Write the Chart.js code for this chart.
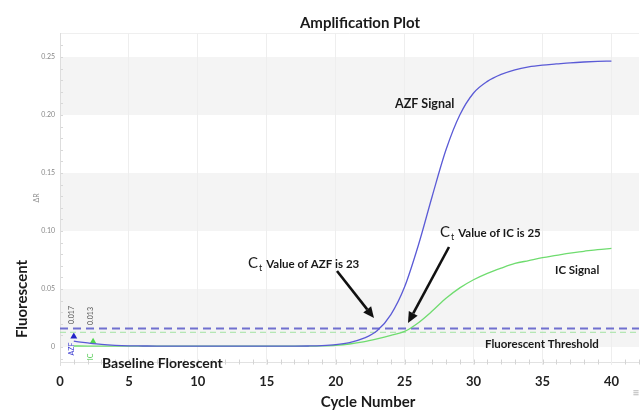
<!DOCTYPE html>
<html>
<head>
<meta charset="utf-8">
<script src="https://cdn.jsdelivr.net/npm/chart.js@4"></script>
<style>
  html, body { margin: 0; padding: 0; background: #fff; }
  #wrap { width: 643px; height: 410px; }
</style>
</head>
<body>
<div id="wrap"><canvas id="ampChart" width="643" height="410"></canvas></div>
<script>
// cycle numbers and the two fluorescence curves (delta Rn)
const cycles = [1, 2, 3, 4, 5, 6, 7, 8, 9, 10, 11, 12, 13, 14, 15, 16, 17, 18, 19, 20,
                21, 22, 23, 24, 25, 26, 27, 28, 29, 30, 31, 32, 33, 34, 35, 36, 37, 38, 39, 40];
const azfSignal = [0.0050, 0.0035, 0.0022, 0.0014, 0.0010, 0.0009, 0.0008, 0.0008, 0.0008, 0.0008,
                   0.0008, 0.0008, 0.0008, 0.0008, 0.0008, 0.0008, 0.0008, 0.0009, 0.0012, 0.0020,
                   0.0038, 0.0074, 0.0140, 0.0280, 0.0520, 0.0880, 0.1300, 0.1700, 0.2000, 0.2190,
                   0.2290, 0.2350, 0.2390, 0.2415, 0.2430, 0.2440, 0.2450, 0.2457, 0.2462, 0.2465];
const icSignal = [0.0009, 0.0008, 0.0008, 0.0008, 0.0008, 0.0008, 0.0008, 0.0008, 0.0008, 0.0008,
                  0.0008, 0.0008, 0.0008, 0.0008, 0.0008, 0.0008, 0.0008, 0.0008, 0.0010, 0.0015,
                  0.0026, 0.0044, 0.0070, 0.0100, 0.0135, 0.0210, 0.0310, 0.0420, 0.0510, 0.0580,
                  0.0635, 0.0680, 0.0720, 0.0745, 0.0770, 0.0790, 0.0810, 0.0825, 0.0840, 0.0850];

// threshold levels
const azfThreshold = 0.016;
const icThreshold = 0.0127;

// baseline markers (cycle, value) for AZF and IC
const markerCycles = [1, 2.4];
const markerValues = [0.009, 0.0046];

// axis ticks
const xTickValues = [0, 5, 10, 15, 20, 25, 30, 35, 40];
const yTickValues = [0, 0.05, 0.10, 0.15, 0.20, 0.25];

const FONT = 'Lato, "Open Sans", "Liberation Sans", sans-serif';

const toPoints = (xs, ys) => xs.map((x, i) => ({ x: x, y: ys[i] }));

// background bands, minor ticks and frame, under everything else
const bandsPlugin = {
  id: 'bands',
  beforeDraw(chart) {
    const { ctx, chartArea: a, scales: { x, y } } = chart;
    ctx.save();
    ctx.fillStyle = '#f4f4f4';
    for (let i = 0; i < yTickValues.length - 1; i += 2) {
      const top = y.getPixelForValue(yTickValues[i + 1]);
      const bot = y.getPixelForValue(yTickValues[i]);
      ctx.fillRect(a.left, top, a.right - a.left, bot - top);
    }
    // faint frame top
    ctx.strokeStyle = '#efefef';
    ctx.lineWidth = 1;
    ctx.beginPath();
    ctx.moveTo(a.left, a.top + 0.5);
    ctx.lineTo(a.right, a.top + 0.5);
    ctx.stroke();
    // y minor ticks
    ctx.strokeStyle = '#d8d8d8';
    for (let v = -0.01; v <= 0.27; v += 0.01) {
      const py = Math.round(y.getPixelForValue(v)) + 0.5;
      if (py < a.top || py > a.bottom) continue;
      ctx.beginPath();
      ctx.moveTo(a.left, py);
      ctx.lineTo(a.left + 3, py);
      ctx.stroke();
    }
    // x minor ticks along the bottom
    const by = a.bottom - 2.5;
    ctx.strokeStyle = '#e2e2e2';
    ctx.beginPath();
    ctx.moveTo(a.left, by);
    ctx.lineTo(a.right, by);
    ctx.stroke();
    ctx.strokeStyle = '#d4d4d4';
    for (let c = 0; c <= 42; c++) {
      const px = Math.round(x.getPixelForValue(c)) + 0.5;
      ctx.beginPath();
      ctx.moveTo(px, by - 3);
      ctx.lineTo(px, by + 2);
      ctx.stroke();
    }
    ctx.restore();
  }
};

function arrow(ctx, x1, y1, x2, y2) {
  const ang = Math.atan2(y2 - y1, x2 - x1);
  const head = 11, wing = 5;
  const bx = x2 - head * Math.cos(ang), bycoord = y2 - head * Math.sin(ang);
  ctx.beginPath();
  ctx.moveTo(x1, y1);
  ctx.lineTo(bx, bycoord);
  ctx.stroke();
  ctx.beginPath();
  ctx.moveTo(x2, y2);
  ctx.lineTo(bx + wing * Math.sin(ang), bycoord - wing * Math.cos(ang));
  ctx.lineTo(bx - wing * Math.sin(ang), bycoord + wing * Math.cos(ang));
  ctx.closePath();
  ctx.fill();
}

function ctLabel(ctx, x, y, rest) {
  ctx.textAlign = 'left';
  ctx.textBaseline = 'alphabetic';
  ctx.font = '15px ' + FONT;
  ctx.fillText('C', x, y);
  let w = ctx.measureText('C').width;
  ctx.font = '9px ' + FONT;
  ctx.fillText('t', x + w + 1, y + 3);
  w += ctx.measureText('t').width + 1;
  ctx.font = 'bold 11.5px ' + FONT;
  ctx.fillText(rest, x + w + 4, y);
}

// text, arrows and small labels on top
const notesPlugin = {
  id: 'notes',
  afterDraw(chart) {
    const { ctx, scales: { x, y } } = chart;
    ctx.save();
    ctx.fillStyle = '#1a1a1a';
    ctx.textBaseline = 'middle';
    ctx.textAlign = 'center';

    ctx.font = 'bold 15px ' + FONT;
    ctx.fillText('Amplification Plot', 360, 23);

    ctx.font = 'bold 15px ' + FONT;
    ctx.fillText('Cycle Number', 368, 402);

    ctx.save();
    ctx.translate(22, 299);
    ctx.rotate(-Math.PI / 2);
    ctx.fillText('Fluorescent', 0, 0);
    ctx.restore();

    ctx.save();
    ctx.fillStyle = '#888';
    ctx.font = '7px ' + FONT;
    ctx.translate(37, 198);
    ctx.rotate(-Math.PI / 2);
    ctx.fillText('\u0394R', 0, 0);
    ctx.restore();

    ctx.textAlign = 'left';
    ctx.font = 'bold 12.5px ' + FONT;
    ctx.fillText('AZF Signal', 395, 104);

    ctx.font = 'bold 11.5px ' + FONT;
    ctx.fillText('IC Signal', 555, 270);
    ctx.fillText('Fluorescent Threshold', 485, 344);

    ctx.font = 'bold 14px ' + FONT;
    ctx.fillText('Baseline Florescent', 102, 363);

    ctLabel(ctx, 248, 268, 'Value of AZF is 23');
    ctLabel(ctx, 440, 237, 'Value of IC is 25');

    ctx.strokeStyle = '#111';
    ctx.fillStyle = '#111';
    ctx.lineWidth = 2.6;
    arrow(ctx, 337, 271, 374, 318);
    arrow(ctx, 449, 247, 408, 323);

    // small vertical marker labels
    ctx.font = '7px ' + FONT;
    ctx.textAlign = 'center';
    const rot = (txt, px, py, col) => {
      ctx.save();
      ctx.fillStyle = col;
      ctx.translate(px, py);
      ctx.rotate(-Math.PI / 2);
      ctx.fillText(txt, 0, 0);
      ctx.restore();
    };
    const m0 = x.getPixelForValue(markerCycles[0]);
    const m1 = x.getPixelForValue(markerCycles[1]);
    rot('0.017', m0, 315, '#555');
    rot('0.013', m1, 316, '#555');
    rot('AZF', m0, 349, '#3b3bd0');
    rot('IC', m1, 357, '#55cc55');

    ctx.fillStyle = '#bbb';
    ctx.font = '12px ' + FONT;
    ctx.fillText('\u2261', 636, 397);
    ctx.restore();
  }
};

const ctx = document.getElementById('ampChart').getContext('2d');
new Chart(ctx, {
  type: 'line',
  data: {
    datasets: [
      {
        label: 'AZF',
        data: toPoints(cycles, azfSignal),
        borderColor: '#5a5ad6',
        borderWidth: 1.3,
        pointRadius: 0,
        cubicInterpolationMode: 'monotone',
        fill: false
      },
      {
        label: 'IC',
        data: toPoints(cycles, icSignal),
        borderColor: '#6fdc6f',
        borderWidth: 1.3,
        pointRadius: 0,
        cubicInterpolationMode: 'monotone',
        fill: false
      },
      {
        label: 'AZF threshold',
        data: [{ x: 0, y: azfThreshold }, { x: 42, y: azfThreshold }],
        borderColor: '#7070cf',
        borderWidth: 2,
        borderDash: [8, 5],
        pointRadius: 0
      },
      {
        label: 'IC threshold',
        data: [{ x: 0, y: icThreshold }, { x: 42, y: icThreshold }],
        borderColor: '#a2e2a2',
        borderWidth: 1,
        borderDash: [6, 4],
        pointRadius: 0
      },
      {
        label: 'markers',
        data: toPoints(markerCycles, markerValues),
        showLine: false,
        pointStyle: 'triangle',
        pointRadius: 4,
        pointBackgroundColor: ['#2424c8', '#4fd64f'],
        pointBorderColor: ['#2424c8', '#4fd64f'],
        pointBorderWidth: 0
      }
    ]
  },
  options: {
    responsive: false,
    animation: false,
    devicePixelRatio: 1,
    layout: { padding: { top: 33, right: 0, bottom: 0, left: 0 } },
    plugins: {
      legend: { display: false },
      tooltip: { enabled: false }
    },
    scales: {
      x: {
        type: 'linear',
        min: 0,
        max: 42,
        afterFit: (s) => { s.height = 45; },
        afterBuildTicks: (s) => { s.ticks = xTickValues.map(v => ({ value: v })); },
        border: { display: false },
        grid: { color: '#eeeeee', drawTicks: false },
        ticks: {
          padding: 9,
          color: '#222',
          font: { family: FONT, size: 13, weight: 'bold' }
        }
      },
      y: {
        min: -0.0155,
        max: 0.2707,
        afterFit: (s) => { s.width = 60; },
        afterBuildTicks: (s) => { s.ticks = yTickValues.map(v => ({ value: v })); },
        border: { display: true, color: '#dddddd' },
        grid: { display: false, drawTicks: false },
        ticks: {
          padding: 5,
          color: '#888',
          font: { family: FONT, size: 7 },
          callback: (v) => (v === 0 ? '0' : v.toFixed(2))
        }
      }
    }
  },
  plugins: [bandsPlugin, notesPlugin]
});
</script>
</body>
</html>
